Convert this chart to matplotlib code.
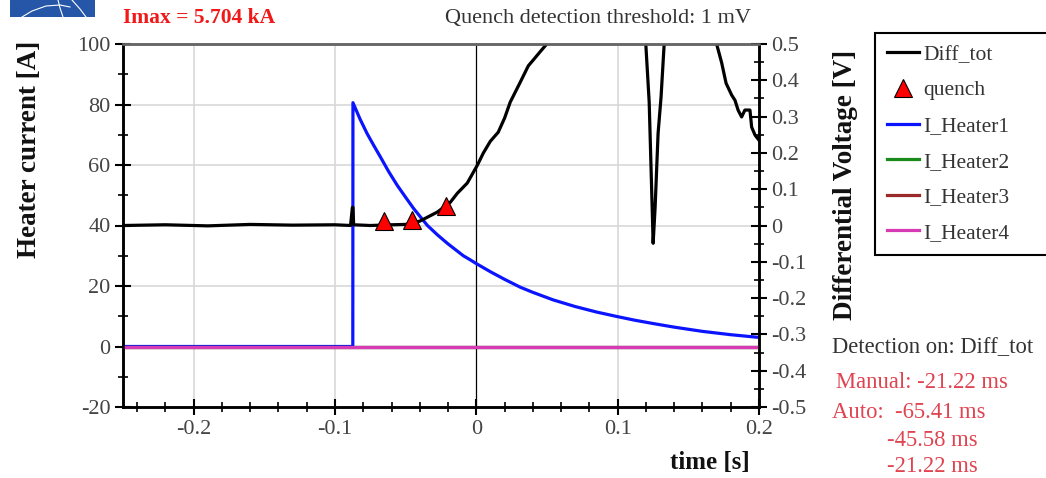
import matplotlib
matplotlib.use("Agg")
import matplotlib.pyplot as plt
from matplotlib.lines import Line2D

plt.rcParams['font.family'] = ['Liberation Serif', 'DejaVu Serif']
plt.rcParams['axes.unicode_minus'] = False

# Diff_tot voltage [V] vs time [s]
diff_t = [-0.25, -0.22, -0.19, -0.16, -0.13, -0.10, -0.089, -0.0877, -0.0873, -0.0868,
          -0.075, -0.06, -0.05, -0.04, -0.0276, -0.0184, -0.0134, -0.0064, 0.0007, 0.0050,
          0.0099, 0.0155, 0.0200, 0.0240, 0.0311, 0.0368, 0.0403, 0.0450, 0.0505, 0.065,
          0.085, 0.105, 0.1199, 0.1223, 0.1244, 0.1251, 0.1265, 0.1286, 0.1307, 0.1329,
          0.150, 0.170, 0.1736, 0.1767, 0.1807, 0.183, 0.1852, 0.1877, 0.190, 0.1936,
          0.1948, 0.1972, 0.200]
diff_v = [0.0, 0.002, -0.001, 0.003, 0.001, 0.002, 0.0, 0.05, 0.05, 0.002,
          0.0, 0.002, 0.003, 0.012, 0.037, 0.064, 0.089, 0.117, 0.166, 0.200,
          0.232, 0.257, 0.296, 0.340, 0.395, 0.440, 0.456, 0.478, 0.503, 0.62,
          0.80, 0.75, 0.50, 0.34, 0.05, -0.049, 0.05, 0.254, 0.354, 0.50,
          0.80, 0.50, 0.448, 0.392, 0.359, 0.345, 0.318, 0.299, 0.318, 0.318,
          0.271, 0.249, 0.235]

# quench markers (auto detection)
quench_t = [-0.06541, -0.04558, -0.02122]
quench_v = [0.0116, 0.014, 0.053]

# heater currents [A]
h1_t = [-0.25, -0.0874, -0.0873, -0.0823, -0.0773, -0.0725, -0.0678, -0.062, -0.056, -0.050,
        -0.0445, -0.0395, -0.0346, -0.0275, -0.0205, -0.0150, -0.0092, -0.0045, 0.0, 0.0100,
        0.0200, 0.0311, 0.0400, 0.0544, 0.0700, 0.0850, 0.0996, 0.1120, 0.125, 0.140,
        0.160, 0.180, 0.200]
h1_a = [0.0, 0.0, 80.6, 75.2, 70.4, 66.4, 62.6, 57.8, 53.3, 49.3,
        45.7, 42.8, 40.0, 36.9, 34.1, 32.1, 30.0, 28.7, 27.4, 24.7,
        22.2, 19.6, 17.9, 15.4, 13.2, 11.4, 9.9, 8.7, 7.6, 6.4,
        5.0, 3.9, 3.0]
h_t = [-0.25, 0.2]
h2_a = [0.0, 0.0]
h3_a = [0.0, 0.0]
h4_a = [0.0, 0.0]

fig = plt.figure(figsize=(10.46, 4.78), dpi=100)
ax = fig.add_axes([123 / 1046, 1 - 407 / 478, 636 / 1046, 363 / 478])
ax2 = ax.twinx()

grid_c = '#d8d8d8'
for x in [-0.2, -0.1, 0.1]:
    ax.axvline(x, color=grid_c, lw=1.2, zorder=0)
for y in [20, 40, 60, 80]:
    ax.axhline(y, color=grid_c, lw=1.2, zorder=0)
ax.axvline(0, color='black', lw=0.9, zorder=1)

ax.plot(h1_t, h1_a, color='#0a14ff', lw=2.3, zorder=2)
ax.plot(h_t, h2_a, color='#1a8a1a', lw=2.3, zorder=2)
ax.plot(h_t, h3_a, color='#9a2a2a', lw=2.3, zorder=2)
ax.plot(h_t, h4_a, color='#d63ab4', lw=2.3, zorder=3)

ax2.plot(diff_t, diff_v, color='black', lw=2.3)
ax2.plot(quench_t, quench_v, ls='none', marker='^', ms=13, mfc='#ff0000', mec='black', mew=0.8)

ax.set_xlim(-0.25, 0.2)
ax.set_ylim(-20, 100)
ax2.set_ylim(-0.5, 0.5)
ax.set_xticks([-0.2, -0.1, 0, 0.1, 0.2])
ax.set_xticklabels(['-0.2', '-0.1', '0', '0.1', '0.2'])
ax.set_xticks([-0.24 + 0.02 * i for i in range(23)], minor=True)
ax.set_yticks([-20, 0, 20, 40, 60, 80, 100])
ax.set_yticks([-10, 10, 30, 50, 70, 90], minor=True)
ax2.set_yticks([-0.5, -0.4, -0.3, -0.2, -0.1, 0, 0.1, 0.2, 0.3, 0.4, 0.5])
ax2.set_yticklabels(['-0.5', '-0.4', '-0.3', '-0.2', '-0.1', '0', '0.1', '0.2', '0.3', '0.4', '0.5'])
ax2.set_yticks([-0.45 + 0.1 * i for i in range(10)], minor=True)

tick_c = '#444444'
for a in (ax, ax2):
    a.tick_params(which='major', direction='inout', length=12, width=1.5, color='black',
                  labelsize=16, labelcolor=tick_c, pad=3)
    a.tick_params(which='minor', direction='inout', length=7, width=1.2, color='black')
    for s in ['left', 'right', 'bottom']:
        a.spines[s].set_linewidth(1.8)
        a.spines[s].set_color('black')
    a.spines['top'].set_linewidth(1.8)
    a.spines['top'].set_color('#666666')
ax.tick_params(axis='x', top=False)

fig.text(30 / 1046, 1 - 149 / 478, 'Heater current [A]', rotation=90, ha='center', va='center',
         fontsize=19.5, fontweight='bold', color='#111111')
fig.text(845 / 1046, 1 - 185 / 478, 'Differential Voltage [V]', rotation=90, ha='center', va='center',
         fontsize=19.5, fontweight='bold', color='#111111')
fig.text(710 / 1046, 1 - 462 / 478, 'time [s]', ha='center', va='center',
         fontsize=18, fontweight='bold', color='#111111')

fig.text(123 / 1046, 1 - 18 / 478, 'Imax = 5.704 kA', ha='left', va='center',
         fontsize=15.5, fontweight='bold', color='#f01818')
fig.text(598 / 1046, 1 - 18 / 478, 'Quench detection threshold: 1 mV', ha='center', va='center',
         fontsize=16, color='#333333')

det_c = '#e04450'
fig.text(832 / 1046, 1 - 348 / 478, 'Detection on: Diff_tot', ha='left', va='center', fontsize=16.3, color='#333333')
fig.text(836 / 1046, 1 - 382 / 478, 'Manual: -21.22 ms', ha='left', va='center', fontsize=16.3, color=det_c)
fig.text(832 / 1046, 1 - 412 / 478, 'Auto:  -65.41 ms', ha='left', va='center', fontsize=16.3, color=det_c)
fig.text(887 / 1046, 1 - 441 / 478, '-45.58 ms', ha='left', va='center', fontsize=16.3, color=det_c)
fig.text(887 / 1046, 1 - 467 / 478, '-21.22 ms', ha='left', va='center', fontsize=16.3, color=det_c)

# legend
handles = [Line2D([], [], color='black', lw=2.3),
           Line2D([], [], ls='none', marker='^', ms=13, mfc='#ff0000', mec='black', mew=0.8),
           Line2D([], [], color='#0a14ff', lw=2.3),
           Line2D([], [], color='#1a8a1a', lw=2.3),
           Line2D([], [], color='#9a2a2a', lw=2.3),
           Line2D([], [], color='#d63ab4', lw=2.3)]
labels = ['Diff_tot', 'quench', 'I_Heater1', 'I_Heater2', 'I_Heater3', 'I_Heater4']
leg = fig.legend(handles, labels, loc='upper left', bbox_to_anchor=(875 / 1046, 0.0, 0.3, 1 - 33 / 478),
                 bbox_transform=fig.transFigure, mode='expand', fontsize=15.5, frameon=True,
                 fancybox=False, framealpha=1, edgecolor='black', handlelength=1.5,
                 handletextpad=0.2, labelspacing=0.72, borderpad=0.55, borderaxespad=0)
leg.get_frame().set_linewidth(1.5)
for t in leg.get_texts():
    t.set_color('#333333')

# logo corner
logo = fig.add_axes([10 / 1046, 1 - 17 / 478, 85 / 1046, 17 / 478])
logo.set_facecolor('#2556a8')
logo.set_xlim(0, 85)
logo.set_ylim(0, 17)
logo.plot([12, 22, 36, 50, 60], [0, 6, 11, 12, 10], color='white', lw=0.8)
logo.plot([48, 50, 53], [17, 9, 0], color='white', lw=0.8)
logo.plot([62, 70, 76], [17, 8, 0], color='white', lw=0.8)
logo.set_xticks([])
logo.set_yticks([])
for s in logo.spines.values():
    s.set_visible(False)

fig.savefig('out.png', dpi=100)
